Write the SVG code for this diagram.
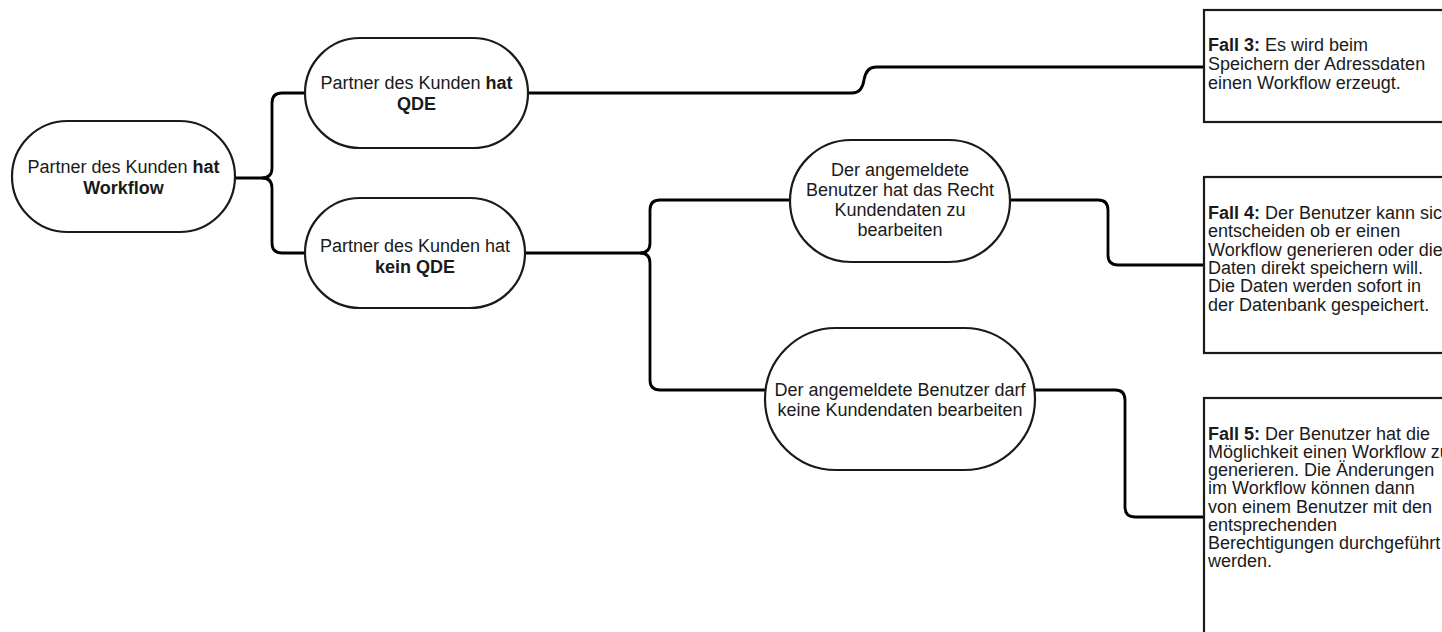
<svg xmlns="http://www.w3.org/2000/svg" width="1442" height="632" viewBox="0 0 1442 632">
<style>
.node{fill:#fff;stroke:#1a1a1a;stroke-width:2.2}
.box{fill:#fff;stroke:#1a1a1a;stroke-width:2.2}
.conn{fill:none;stroke:#000;stroke-width:2.8;stroke-linejoin:round}
text{font-family:"Liberation Sans",Arial,sans-serif;font-size:18px;fill:#1a1a1a}
.c{text-anchor:middle}
.b{font-weight:bold}
</style>
<rect width="1442" height="632" fill="#fff"/>
<g id="connectors">
<path class="conn" d="M235,178 H262 Q272,178 272,168 V103 Q272,93 282,93 H305"/>
<path class="conn" d="M262,178 Q272,178 272,188 V243 Q272,253 282,253 H305"/>
<path class="conn" d="M528,93 H852 Q862,93 864,80 Q866,67 876,67 H1203"/>
<path class="conn" d="M525,253 H640 Q650,253 650,243 V210 Q650,200 660,200 H790"/>
<path class="conn" d="M640,253 Q650,253 650,263 V380 Q650,390 660,390 H765"/>
<path class="conn" d="M1010,200 H1098 Q1108,200 1108,210 V255 Q1108,265 1118,265 H1203"/>
<path class="conn" d="M1035,390 H1115 Q1125,390 1125,400 V507 Q1125,517 1135,517 H1203"/>
</g>
<g id="n-root">
<rect class="node" x="12" y="121" width="223" height="111" rx="55.5"/>
<text class="c" x="123.5" y="173">Partner des Kunden <tspan class="b">hat</tspan></text>
<text class="c b" x="123.5" y="194">Workflow</text>
</g>
<g id="n-qde">
<rect class="node" x="305" y="38" width="223" height="110" rx="55"/>
<text class="c" x="416.5" y="89">Partner des Kunden <tspan class="b">hat</tspan></text>
<text class="c b" x="416.5" y="110">QDE</text>
</g>
<g id="n-kein">
<rect class="node" x="305" y="198" width="220" height="110" rx="55"/>
<text class="c" x="415" y="252">Partner des Kunden hat</text>
<text class="c b" x="415" y="273">kein QDE</text>
</g>
<g id="n-recht">
<rect class="node" x="790" y="140" width="220" height="122" rx="61"/>
<text class="c" x="900" y="176">Der angemeldete</text>
<text class="c" x="900" y="196">Benutzer hat das Recht</text>
<text class="c" x="900" y="216">Kundendaten zu</text>
<text class="c" x="900" y="236">bearbeiten</text>
</g>
<g id="n-darf">
<rect class="node" x="765" y="328" width="270" height="142" rx="71"/>
<text class="c" x="900" y="396">Der angemeldete Benutzer darf</text>
<text class="c" x="900" y="416">keine Kundendaten bearbeiten</text>
</g>
<g id="fall3">
<rect class="box" x="1204" y="10" width="260" height="112"/>
<text x="1208" y="51"><tspan class="b">Fall 3:</tspan> Es wird beim</text>
<text x="1208" y="70">Speichern der Adressdaten</text>
<text x="1208" y="89">einen Workflow erzeugt.</text>
</g>
<g id="fall4">
<rect class="box" x="1204" y="177" width="260" height="176"/>
<text x="1208" y="219"><tspan class="b">Fall 4:</tspan> Der Benutzer kann sich</text>
<text x="1208" y="237">entscheiden ob er einen</text>
<text x="1208" y="256">Workflow generieren oder die</text>
<text x="1208" y="274">Daten direkt speichern will.</text>
<text x="1208" y="292">Die Daten werden sofort in</text>
<text x="1208" y="311">der Datenbank gespeichert.</text>
</g>
<g id="fall5">
<rect class="box" x="1204" y="398" width="260" height="250"/>
<text x="1208" y="440"><tspan class="b">Fall 5:</tspan> Der Benutzer hat die</text>
<text x="1208" y="458">Möglichkeit einen Workflow zu</text>
<text x="1208" y="476">generieren. Die Änderungen</text>
<text x="1208" y="494">im Workflow können dann</text>
<text x="1208" y="513">von einem Benutzer mit den</text>
<text x="1208" y="531">entsprechenden</text>
<text x="1208" y="549">Berechtigungen durchgeführt</text>
<text x="1208" y="567">werden.</text>
</g>
</svg>
